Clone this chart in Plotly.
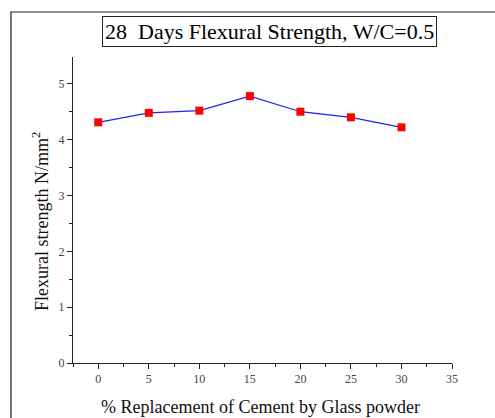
import plotly.graph_objects as go

replacement = [0, 5, 10, 15, 20, 25, 30]
strength = [4.31, 4.48, 4.52, 4.78, 4.50, 4.40, 4.22]
x_ticks = [0, 5, 10, 15, 20, 25, 30, 35]
y_ticks = [0, 1, 2, 3, 4, 5]

W, H = 495, 418
L, R, T, B = 73, 43, 57, 55
pw, ph = W - L - R, H - T - B

def px(x):
    return (x - L) / pw

def py(y):
    return (H - B - y) / ph

serif = "Times New Roman, Liberation Serif, serif"

fig = go.Figure()
fig.add_trace(go.Scatter(
    x=replacement, y=strength, mode="lines+markers",
    line=dict(color="#2020ff", width=1.2),
    marker=dict(symbol="square", size=8, color="#ff0000"),
    showlegend=False,
))

axis_common = dict(
    showgrid=False, zeroline=False, showline=True, linecolor="#222", linewidth=1,
    ticks="outside", ticklen=5, tickcolor="#222", tickwidth=1,
    tickfont=dict(family=serif, size=12, color="#444"),
    mirror=False,
)
fig.update_xaxes(range=[-2.5, 35], tickvals=x_ticks, ticktext=[str(v) for v in x_ticks],
                 minor=dict(ticks="outside", ticklen=3, tickcolor="#222", dtick=2.5, tick0=0),
                 **axis_common)
fig.update_yaxes(range=[0, 5.48], tickvals=y_ticks, ticktext=[str(v) for v in y_ticks],
                 minor=dict(ticks="outside", ticklen=3, tickcolor="#222", dtick=0.5, tick0=0),
                 **axis_common)

fig.add_shape(type="rect", xref="paper", yref="paper",
              x0=px(11), x1=px(520), y0=py(440), y1=py(12),
              line=dict(color="#222", width=1.2), fillcolor="rgba(0,0,0,0)", layer="below")

fig.add_annotation(text="28  Days Flexural Strength, W/C=0.5", xref="paper", yref="paper",
                   x=px(269.5), y=py(31.5), showarrow=False, xanchor="center", yanchor="middle",
                   font=dict(family=serif, size=22, color="#000"),
                   bordercolor="#222", borderwidth=1, borderpad=2, bgcolor="white")
fig.add_annotation(text="Flexural strength N/mm<sup>2</sup>", xref="paper", yref="paper",
                   x=px(40), y=py(222), showarrow=False, textangle=-90,
                   xanchor="center", yanchor="middle",
                   font=dict(family=serif, size=18, color="#111"))
fig.add_annotation(text="% Replacement of Cement by Glass powder", xref="paper", yref="paper",
                   x=px(260.5), y=py(407), showarrow=False,
                   xanchor="center", yanchor="middle",
                   font=dict(family=serif, size=18, color="#111"))

fig.update_layout(width=W, height=H, margin=dict(l=L, r=R, t=T, b=B),
                  paper_bgcolor="white", plot_bgcolor="white")
fig.write_html("out.html")
